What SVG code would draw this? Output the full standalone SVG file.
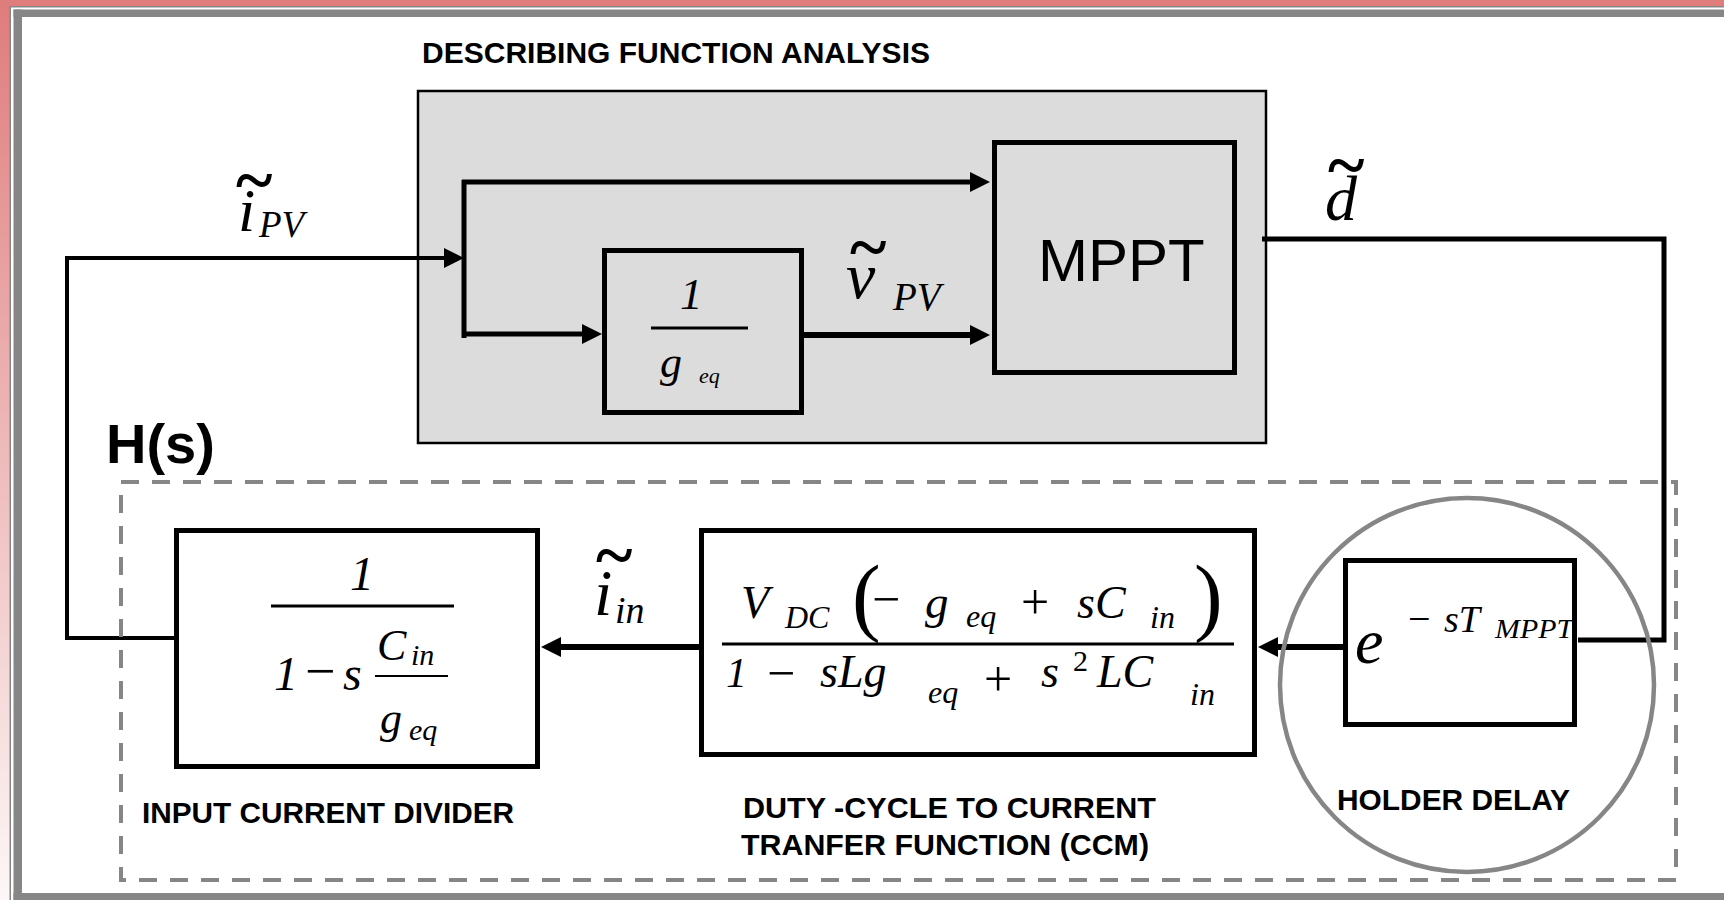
<svg xmlns="http://www.w3.org/2000/svg" width="1724" height="900" viewBox="0 0 1724 900">
  <defs>
    <linearGradient id="sideFade" x1="0" y1="0" x2="0" y2="1">
      <stop offset="0" stop-color="#df7c7c"/>
      <stop offset="1" stop-color="#fdf7f7"/>
    </linearGradient>
    <marker id="arr" markerUnits="userSpaceOnUse" markerWidth="20" markerHeight="20" refX="8" refY="10" orient="auto">
      <path d="M0,0 L20,10 L0,20 z" fill="#000"/>
    </marker>
    <style>
      .box { fill: #fff; stroke: #000; stroke-width: 5; }
      .gbox { fill: #dcdcdc; stroke: #000; stroke-width: 5; }
      .wire { fill: none; stroke: #000; stroke-linejoin: miter; }
      .frac { stroke: #000; stroke-width: 3; }
      .ser { font-family: "Liberation Serif", "Times New Roman", serif; fill: #000; }
      .it { font-style: italic; }
      .tl { font-style: normal; font-weight: bold; font-size: 70px; }
      .lbl { font-family: "Liberation Sans", Arial, sans-serif; font-weight: bold; font-size: 30px; fill: #000; }
      .gray { fill: none; stroke: #868686; }
    </style>
  </defs>

  <!-- page background and frame -->
  <rect x="0" y="0" width="1724" height="900" fill="#fff"/>
  <rect x="0" y="0" width="10" height="900" fill="url(#sideFade)"/>
  <rect x="0" y="0" width="1724" height="6" fill="#df7c7c"/>
  <rect x="9.5" y="6" width="1714.5" height="1.5" fill="#868686"/>
  <rect x="9.5" y="6" width="1.5" height="894" fill="#868686"/>
  <rect x="13.5" y="9.5" width="1710.5" height="7.5" fill="#868686"/>
  <rect x="13.5" y="9.5" width="8.5" height="890.5" fill="#868686"/>
  <rect x="13.5" y="893" width="1710.5" height="7" fill="#868686"/>

  <!-- describing function block -->
  <g id="describing-function">
    <rect x="418" y="91" width="848" height="352" fill="#dcdcdc" stroke="#000" stroke-width="2.5"/>
    <text class="lbl" x="422" y="63" textLength="508" lengthAdjust="spacingAndGlyphs">DESCRIBING FUNCTION ANALYSIS</text>
  </g>

  <g id="inv-geq">
    <rect class="gbox" x="604.5" y="250.5" width="197" height="162"/>
    <text class="ser it" x="680" y="309" font-size="45">1</text>
    <line class="frac" x1="651" y1="328" x2="748" y2="328"/>
    <text class="ser it" x="660" y="377" font-size="44">g</text>
    <text class="ser it" x="699" y="383" font-size="22">eq</text>
  </g>

  <g id="mppt">
    <rect class="gbox" x="994.5" y="142.5" width="240" height="230"/>
    <text x="1038" y="281" font-family="Liberation Sans, Arial, sans-serif" font-size="60">MPPT</text>
  </g>

  <!-- H(s) plant -->
  <g id="h-of-s-label">
    <text x="106" y="463" font-family="Liberation Sans, Arial, sans-serif" font-weight="bold" font-size="56">H(s)</text>
  </g>

  <g id="input-current-divider">
    <rect class="box" x="176.5" y="530.5" width="361" height="236"/>
    <text class="ser it" x="350" y="590" font-size="48">1</text>
    <line class="frac" x1="271" y1="606" x2="454" y2="606"/>
    <text class="ser it" x="274" y="690" font-size="48">1</text>
    <text class="ser" x="305" y="689" font-size="54">−</text>
    <text class="ser it" x="343" y="690" font-size="48">s</text>
    <text class="ser it" x="377" y="660" font-size="44">C</text>
    <text class="ser it" x="411" y="665" font-size="30">in</text>
    <line x1="375" y1="676" x2="448" y2="676" stroke="#000" stroke-width="2"/>
    <text class="ser it" x="380" y="733" font-size="44">g</text>
    <text class="ser it" x="409" y="740" font-size="30">eq</text>
    <text class="lbl" x="142" y="823" textLength="372" lengthAdjust="spacingAndGlyphs">INPUT CURRENT DIVIDER</text>
  </g>

  <g id="duty-to-current">
    <rect class="box" x="701.5" y="530.5" width="553" height="224"/>
    <text class="ser it" x="741" y="618" font-size="46">V</text>
    <text class="ser it" x="785" y="628" font-size="32">DC</text>
    <text class="ser" x="852" y="625" font-size="86">(</text>
    <text class="ser" x="872" y="616" font-size="50">−</text>
    <text class="ser it" x="925" y="618" font-size="47">g</text>
    <text class="ser it" x="966" y="627" font-size="32">eq</text>
    <text class="ser" x="1021" y="619" font-size="50">+</text>
    <text class="ser it" x="1077" y="618" font-size="46">sC</text>
    <text class="ser it" x="1150" y="628" font-size="32">in</text>
    <text class="ser" x="1194" y="625" font-size="86">)</text>
    <line class="frac" x1="722" y1="644" x2="1234" y2="644"/>
    <text class="ser it" x="726" y="687" font-size="42">1</text>
    <text class="ser" x="767" y="690" font-size="50">−</text>
    <text class="ser it" x="820" y="687" font-size="46">sLg</text>
    <text class="ser it" x="928" y="703" font-size="32">eq</text>
    <text class="ser" x="984" y="696" font-size="50">+</text>
    <text class="ser it" x="1041" y="687" font-size="46">s</text>
    <text class="ser" x="1073" y="671" font-size="30">2</text>
    <text class="ser it" x="1097" y="687" font-size="46">LC</text>
    <text class="ser it" x="1190" y="705" font-size="32">in</text>
    <text class="lbl" x="743" y="818" textLength="413" lengthAdjust="spacingAndGlyphs">DUTY -CYCLE TO CURRENT</text>
    <text class="lbl" x="741" y="855" textLength="408" lengthAdjust="spacingAndGlyphs">TRANFER FUNCTION (CCM)</text>
  </g>

  <g id="holder-delay">
    <rect class="box" x="1345.5" y="560.5" width="229" height="164"/>
    <text class="ser it" x="1355" y="663" font-size="64">e</text>
    <text class="ser" x="1408" y="632" font-size="40">−</text>
    <text class="ser it" x="1444" y="632" font-size="38">sT</text>
    <text class="ser it" x="1495" y="638" font-size="28" textLength="78" lengthAdjust="spacingAndGlyphs">MPPT</text>
    <text class="lbl" x="1337" y="810" textLength="233" lengthAdjust="spacingAndGlyphs">HOLDER DELAY</text>
  </g>

  <!-- signal paths -->
  <g id="connectors">
    <polyline class="wire" stroke-width="4" points="176,638 67,638 67,258 452,258" marker-end="url(#arr)"/>
    <line class="wire" stroke-width="5" x1="464" y1="180" x2="464" y2="338"/>
    <line class="wire" stroke-width="5" x1="462" y1="182" x2="978" y2="182" marker-end="url(#arr)"/>
    <line class="wire" stroke-width="5" x1="462" y1="334" x2="590" y2="334" marker-end="url(#arr)"/>
    <line class="wire" stroke-width="6" x1="804" y1="335" x2="978" y2="335" marker-end="url(#arr)"/>
    <polyline class="wire" stroke-width="5" points="1262,239 1664,239 1664,640 1578,640"/>
    <line class="wire" stroke-width="6" x1="1345" y1="647" x2="1270" y2="647" marker-end="url(#arr)"/>
    <line class="wire" stroke-width="6" x1="701" y1="647" x2="553" y2="647" marker-end="url(#arr)"/>
  </g>

  <!-- signal labels: letter, tilde accent and subscript in one text each -->
  <g id="signal-labels">
    <text class="ser it"><tspan x="238" y="231" font-size="62">i</tspan><tspan class="tl" x="236" y="203">~</tspan><tspan x="259" y="237" font-size="37">PV</tspan></text>
    <text class="ser it"><tspan x="846" y="298" font-size="66">v</tspan><tspan class="tl" x="850" y="270">~</tspan><tspan x="893" y="310" font-size="39">PV</tspan></text>
    <text class="ser it"><tspan x="1325" y="220" font-size="64">d</tspan><tspan class="tl" x="1328" y="188">~</tspan></text>
    <text class="ser it"><tspan x="594" y="615" font-size="66">i</tspan><tspan class="tl" x="596" y="578">~</tspan><tspan x="615" y="623" font-size="38">in</tspan></text>
  </g>

  <!-- H(s) boundary and delay highlight -->
  <g id="hs-boundary">
    <rect class="gray" x="121" y="482" width="1555" height="398" stroke-width="4" stroke-dasharray="18 13"/>
    <circle class="gray" cx="1467" cy="685" r="187" stroke-width="4.5"/>
  </g>
</svg>
